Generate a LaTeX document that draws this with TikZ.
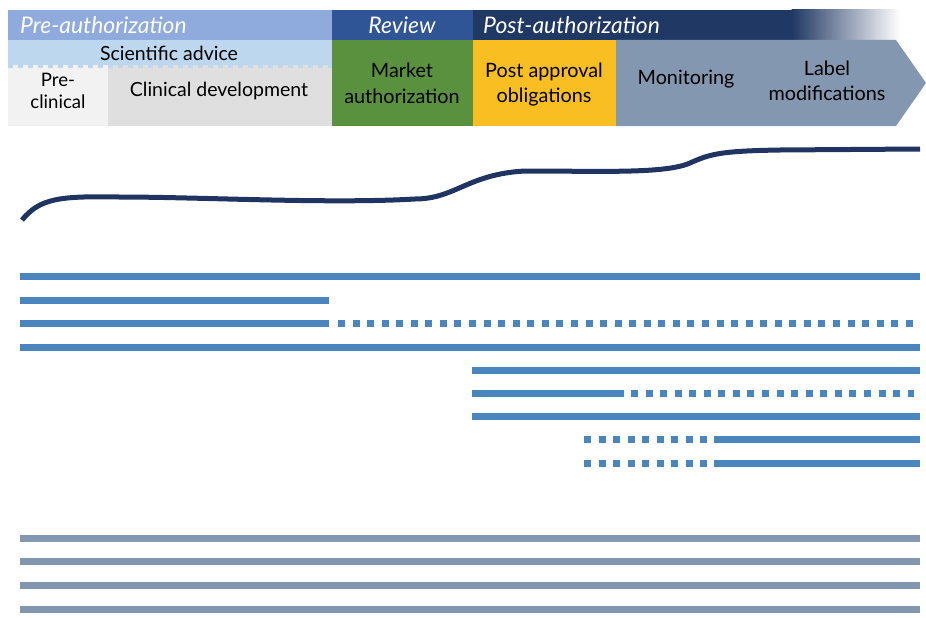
\documentclass[tikz,border=0pt]{standalone}
\usepackage{fontspec}
\setmainfont{Lato}
\definecolor{preauth}{HTML}{8FAADC}
\definecolor{review}{HTML}{2F5597}
\definecolor{postauth}{HTML}{203864}
\definecolor{sciadv}{HTML}{BDD7EE}
\definecolor{preclin}{HTML}{F2F2F2}
\definecolor{clindev}{HTML}{DFDFDF}
\definecolor{mktgreen}{HTML}{5A913F}
\definecolor{postyel}{HTML}{F9BF22}
\definecolor{monigrey}{HTML}{8497B0}
\definecolor{barblue}{HTML}{4A85BD}
\definecolor{bargrey}{HTML}{8497B0}
\definecolor{curvenavy}{HTML}{1F3461}
\begin{document}
\begin{tikzpicture}[x=1pt,y=-1pt,
  hdr/.style={text=white, font=\itshape\fontsize{22.9}{26}\selectfont, inner sep=0pt},
  lbl/.style={text=black, font=\fontsize{19.8}{25.5}\selectfont, align=center, inner sep=0pt},
  bar/.style={line width=7pt, draw=barblue, line cap=butt},
  dotbar/.style={bar, dash pattern=on 7pt off 7.56pt},
  greybar/.style={line width=7pt, draw=bargrey, line cap=butt},
  curve/.style={line width=5pt, draw=curvenavy}]
\useasboundingbox (0,0) rectangle (926,618);
% header row
\fill[preauth] (8,10) rectangle (332,40);
\fill[review] (332,10) rectangle (473,40);
\fill[postauth] (473,10) rectangle (792,40);
\shade[left color=postauth, right color=white] (791.5,10) rectangle (900,40);
\node[hdr, anchor=west] (preauthT) at (20,25) {Pre-authorization};
\node[hdr] (reviewT) at (402,25) {Review};
\node[hdr, anchor=west] (postauthT) at (483,25) {Post-authorization};
% second row
\fill[sciadv] (8,40) rectangle (332,69);
\fill[preclin] (8,68) rectangle (108,126);
\fill[clindev] (108,68) rectangle (332,126);
\foreach \t in {13,23,...,103} \fill[preclin] (\t,65.5) rectangle ++(5,3);
\foreach \t in {113,123,...,323} \fill[clindev] (\t,65.5) rectangle ++(5,3);
\fill[mktgreen] (332,40) rectangle (473,126);
\fill[postyel] (473,40) rectangle (616,126);
\fill[monigrey] (616,40) -- (896,40) -- (926,83) -- (896,126) -- (616,126) -- cycle;
\node[lbl, font=\fontsize{19.5}{22}\selectfont] (sciT) at (169,53) {Scientific advice};
\node[lbl, font=\fontsize{18.6}{22}\selectfont] (preclinT) at (58,90.5) {Pre-\\clinical};
\node[lbl, font=\fontsize{19.5}{22}\selectfont] (clinT) at (219,91) {Clinical development};
\node[lbl] (mktT) at (402,83.5) {Market\\authorization};
\node[lbl] (postobT) at (544,84.5) {Post approval\\obligations};
\node[lbl] (moniT) at (686,79.5) {Monitoring};
\node[lbl, font=\fontsize{19.8}{25}\selectfont] (labelT) at (827,81) {Label\\modifications};
% curve
\draw[curve] (22,220) .. controls (40,198) and (60,196) .. (119,197)
  .. controls (200,197) and (330,204) .. (415,199)
  .. controls (455,199) and (468,174) .. (525,171)
  .. controls (600,171) and (665,174) .. (690,163)
  .. controls (710,154) and (720,151) .. (780,150) -- (920,149);
% blue bars
\draw[bar] (20,276.5) -- (920,276.5);
\draw[bar] (20,300) -- (329,300);
\draw[bar] (20,323.5) -- (329,323.5);
\draw[dotbar] (338,323.5) -- (914,323.5);
\draw[bar] (20,347) -- (920,347);
\draw[bar] (472,370) -- (920,370);
\draw[bar] (472,393) -- (624,393);
\draw[dotbar] (631,393) -- (914,393);
\draw[bar] (472,416.5) -- (920,416.5);
\draw[dotbar] (584,439.5) -- (709,439.5);
\draw[bar] (714,439.5) -- (920,439.5);
\draw[dotbar] (584,463.5) -- (709,463.5);
\draw[bar] (714,463.5) -- (920,463.5);
% grey bars
\draw[greybar] (20,538) -- (920,538);
\draw[greybar] (20,561) -- (920,561);
\draw[greybar] (20,585) -- (920,585);
\draw[greybar] (20,609) -- (920,609);
\end{tikzpicture}
\end{document}
